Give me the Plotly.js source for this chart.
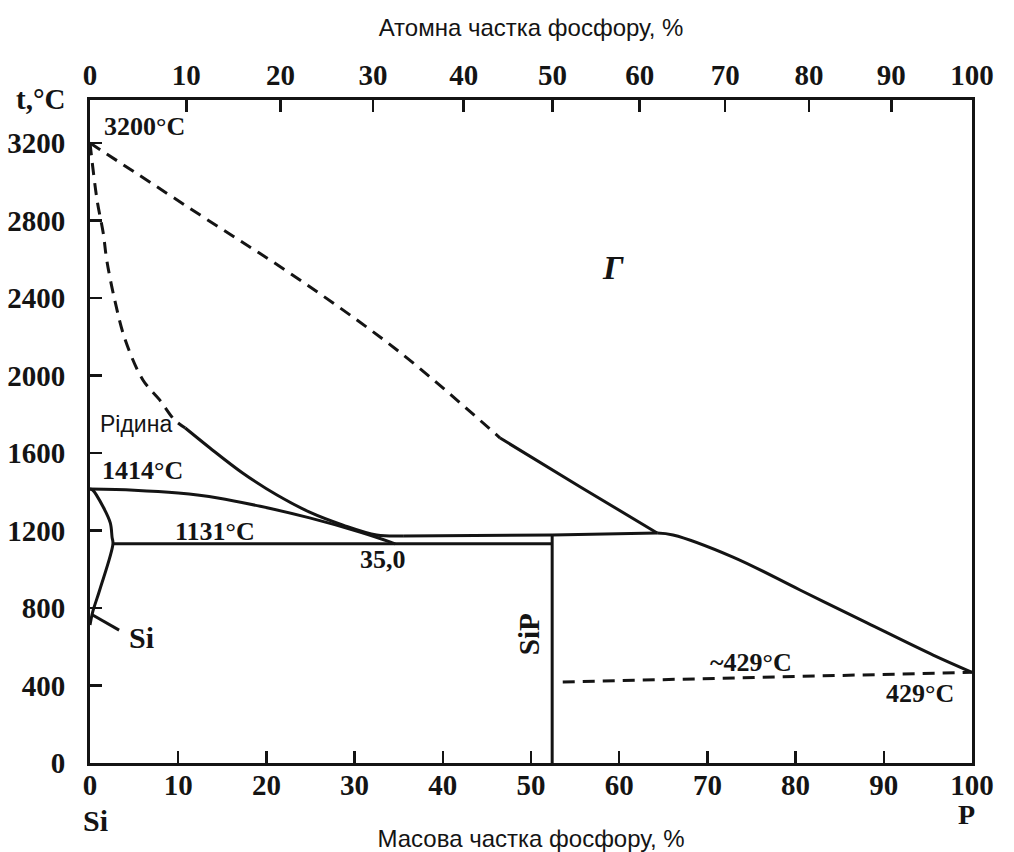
<!DOCTYPE html>
<html>
<head>
<meta charset="utf-8">
<script src="https://cdn.plot.ly/plotly-3.0.1.min.js"></script>
<style>html,body{margin:0;padding:0;background:#fff}#chart{width:1014px;height:852px}</style>
</head>
<body>
<div id="chart"></div>
<script>
// ---- data (mass % P vs temperature, °C) ----
const siLiqDashX = [0, 0.8, 1.5, 1.9, 2.8, 4.0, 6.0, 7.9, 9.6, 10.8];
const siLiqDashY = [3200, 2906, 2735, 2596, 2390, 2183, 1977, 1874, 1770, 1729];
const siLiqX = [10.8, 13.6, 17.3, 21.2, 24.9, 28.7, 32.5, 35.5];
const siLiqY = [1729, 1626, 1497, 1383, 1295, 1228, 1177, 1172];
const gasDashX = [0, 12.5, 23.8, 35.1, 46.5];
const gasDashY = [3200, 2828, 2493, 2121, 1677];
const gasX = [46.5, 55.6, 64.3];
const gasY = [1677, 1425, 1187];
const solidusX = [0, 5.0, 10.0, 14.5, 19.3, 24.9, 30.6, 34.0, 34.6];
const solidusY = [1414, 1408, 1393, 1368, 1325, 1265, 1192, 1141, 1131];
const solvusX = [0, 0.3, 1.5, 2.3, 2.5, 2.6, 1.1, 0.3, 0];
const solvusY = [1414, 1409, 1321, 1239, 1166, 1131, 893, 779, 712];
const eutecticX = [2.6, 52.4];
const eutecticY = [1131, 1131];
const sipX = [52.4, 52.4];
const sipY = [0, 1175];
const periX = [35.5, 52.4, 64.3];
const periY = [1172, 1177, 1187];
const pLiqX = [64.3, 66.1, 72.9, 80.5, 88.1, 95.6, 100];
const pLiqY = [1187, 1177, 1063, 893, 723, 557, 468];
const pTransX = [53.6, 100];
const pTransY = [418, 468];
const siLeaderX = [0.3, 3.3];
const siLeaderY = [764, 686];

const massTicks = [0, 10, 20, 30, 40, 50, 60, 70, 80, 90, 100];
const atomicTicks = [0, 10, 20, 30, 40, 50, 60, 70, 80, 90, 100];
const tempTicks = [0, 400, 800, 1200, 1600, 2000, 2400, 2800, 3200];
const M_SI = 28.086, M_P = 30.974;
// atomic % -> mass % positions for the top axis
const atomicPos = atomicTicks.map(a => 100 * a * M_P / (a * M_P + (100 - a) * M_SI));

const INK = '#141414';
const serif = 'Liberation Serif, Times New Roman, serif';
const sans = 'Liberation Sans, Arial, sans-serif';

function ln(x, y, dash) {
  return {x: x, y: y, type: 'scatter', mode: 'lines', xaxis: 'x', yaxis: 'y',
    line: {color: INK, width: 3, dash: dash || 'solid', shape: 'spline', smoothing: 1},
    hoverinfo: 'skip', showlegend: false};
}
function straight(x, y, dash) {
  const t = ln(x, y, dash); t.line.shape = 'linear'; return t;
}

const traces = [
  ln(siLiqDashX, siLiqDashY, '12px,8px'),
  ln(siLiqX, siLiqY),
  ln(gasDashX, gasDashY, '12px,8px'),
  ln(gasX, gasY),
  ln(solidusX, solidusY),
  ln(solvusX, solvusY),
  straight(eutecticX, eutecticY),
  straight(sipX, sipY),
  ln(periX, periY),
  ln(pLiqX, pLiqY),
  straight(pTransX, pTransY, '12px,8px'),
  straight(siLeaderX, siLeaderY),
  {x: [0, 100], y: [0, 0], type: 'scatter', mode: 'markers', xaxis: 'x2', yaxis: 'y',
   marker: {opacity: 0}, hoverinfo: 'skip', showlegend: false}
];

function ann(x, y, text, opts) {
  return Object.assign({x: x, y: y, xref: 'x', yref: 'y', text: text, showarrow: false,
    xanchor: 'center', yanchor: 'middle',
    font: {family: serif, size: 26, color: INK, weight: 'bold'}}, opts || {});
}
function pann(px, py, text, size) {
  return {xref: 'paper', yref: 'paper', x: (px - 90) / 882, y: (763 - py) / 663, text: text,
    showarrow: false, xanchor: 'center', yanchor: 'middle',
    font: {family: serif, size: size, color: INK, weight: 'bold'}};
}

const annotations = [
  ann(6.2, 3283, '3200°C'),
  ann(5.2, 1750, 'Рідина', {font: {family: sans, size: 23, color: INK}}),
  ann(5.9, 1512, '1414°C'),
  ann(14.2, 1197, '1131°C'),
  ann(33.2, 1048, '35,0'),
  ann(49.8, 666, 'SiP', {textangle: -90, font: {family: serif, size: 29, color: INK, weight: 'bold'}}),
  ann(59.3, 2555, 'Г', {font: {family: serif, size: 34, color: INK, weight: 'bold', style: 'italic'}}),
  ann(74.9, 521, '~429°C'),
  ann(94.1, 361, '429°C'),
  ann(5.8, 650, 'Si', {font: {family: serif, size: 30, color: INK, weight: 'bold'}}),
  pann(40, 99, 't,°C', 29),
  pann(95, 820, 'Si', 30),
  pann(966, 814, 'P', 28)
];

const tickFont = {family: serif, size: 29, color: INK, weight: 'bold'};

const layout = {
  width: 1014, height: 852,
  margin: {l: 90, r: 42, t: 100, b: 89, pad: 0},
  paper_bgcolor: '#fff', plot_bgcolor: '#fff',
  showlegend: false,
  xaxis: {
    range: [0, 100], tickvals: massTicks, ticktext: massTicks.map(String),
    ticks: 'inside', ticklen: 12, tickwidth: 2.5, tickcolor: INK, ticklabelstandoff: -6,
    showline: true, linecolor: INK, linewidth: 3, mirror: true,
    showgrid: false, zeroline: false, tickfont: tickFont,
    title: {text: 'Масова частка фосфору, %', font: {family: sans, size: 24, color: INK}, standoff: 33}
  },
  xaxis2: {
    overlaying: 'x', side: 'top', range: [0, 100],
    tickvals: atomicPos, ticktext: atomicTicks.map(String),
    ticks: 'inside', ticklen: 12, tickwidth: 2.5, tickcolor: INK, ticklabelstandoff: 8,
    showline: false, showgrid: false, zeroline: false, tickfont: tickFont,
    title: {text: 'Атомна частка фосфору, %', font: {family: sans, size: 24, color: INK}, standoff: 15}
  },
  yaxis: {
    range: [0, 3422], tickvals: tempTicks, ticktext: tempTicks.map(String),
    ticks: 'inside', ticklen: 12, tickwidth: 2.5, tickcolor: INK, ticklabelstandoff: 16,
    showline: true, linecolor: INK, linewidth: 3, mirror: true,
    showgrid: false, zeroline: false, tickfont: tickFont
  },
  annotations: annotations
};

Plotly.newPlot('chart', traces, layout, {staticPlot: true, displayModeBar: false});
</script>
</body>
</html>
